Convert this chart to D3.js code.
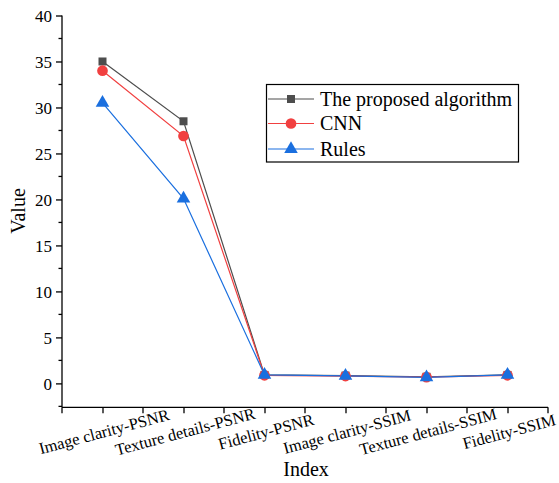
<!DOCTYPE html>
<html><head><meta charset="utf-8">
<script src="https://cdn.jsdelivr.net/npm/d3@7"></script>
<style>body{margin:0;background:#fff}svg{display:block}text{font-family:"Liberation Serif","Times New Roman",serif;fill:#000}</style>
</head><body><svg id="c" width="559" height="483"></svg>
<script>
const categories = ["Image clarity-PSNR","Texture details-PSNR","Fidelity-PSNR","Image clarity-SSIM","Texture details-SSIM","Fidelity-SSIM"];
const proposed = [35, 28.5, 0.92, 0.85, 0.72, 0.92];
const cnn = [34, 26.9, 0.88, 0.8, 0.68, 0.88];
const rules = [30.5, 20.1, 0.92, 0.82, 0.65, 0.93];
const seriesNames = ["The proposed algorithm","CNN","Rules"];
const yTicks = [0,5,10,15,20,25,30,35,40];

const series = [
  {name: seriesNames[0], values: proposed, color: "#4d4d4d", shape: d3.symbolSquare, size: 64},
  {name: seriesNames[1], values: cnn, color: "#f14040", shape: d3.symbolCircle, size: 90},
  {name: seriesNames[2], values: rules, color: "#1a6fdf", shape: d3.symbolTriangle, size: 80}
];

const svg = d3.select("#c");
const L = 62, R = 548, T = 15.5, B = 407.3;
const x = d3.scaleLinear().domain([0.5, 6.5]).range([L, R]);
const y = d3.scaleLinear().domain([-2.6, 40]).range([B, T]);

// Y axis
const yAxis = svg.append("g").attr("transform", `translate(${L},0)`)
  .call(d3.axisLeft(y).tickValues(yTicks).tickSize(6).tickPadding(4).tickFormat(d3.format("d")));
yAxis.select(".domain").attr("stroke", "#000").attr("stroke-width", 1.3).attr("d", `M0,${B}V${T}`);
yAxis.selectAll(".tick line").attr("stroke", "#000").attr("stroke-width", 1.3);
yAxis.selectAll(".tick text").style("font-size", "17px").attr("dy", "0.34em");
const yMinor = d3.range(-2.5, 40, 2.5).filter(v => v % 5 !== 0);
svg.append("g").selectAll("line").data(yMinor).join("line")
  .attr("x1", L - 3.5).attr("x2", L).attr("y1", d => y(d)).attr("y2", d => y(d))
  .attr("stroke", "#000").attr("stroke-width", 1.3);

// X axis
const xAxis = svg.append("g").attr("transform", `translate(0,${B})`)
  .call(d3.axisBottom(x).tickValues([1,2,3,4,5,6]).tickSize(6).tickFormat(""));
xAxis.select(".domain").attr("stroke", "#000").attr("stroke-width", 1.3).attr("d", `M${L},0H${R}`);
xAxis.selectAll(".tick line").attr("stroke", "#000").attr("stroke-width", 1.3);
const xMinor = [0.5,1.5,2.5,3.5,4.5,5.5,6.5];
svg.append("g").selectAll("line").data(xMinor).join("line")
  .attr("x1", d => x(d)).attr("x2", d => x(d)).attr("y1", B).attr("y2", B + 6)
  .attr("stroke", "#000").attr("stroke-width", 1.3);

svg.append("g").selectAll("text").data(categories).join("text")
  .attr("transform", (d, i) => `translate(${x(i + 1) + 3},${437}) rotate(-15)`)
  .attr("text-anchor", "middle").style("font-size", "16.5px").text(d => d);

// Axis titles
svg.append("text").attr("transform", `translate(25,211) rotate(-90)`).attr("text-anchor", "middle")
  .style("font-size", "20px").text("Value");
svg.append("text").attr("x", 306).attr("y", 476).attr("text-anchor", "middle")
  .style("font-size", "20px").text("Index");

// Lines and markers
const line = d3.line().x((d, i) => x(i + 1)).y(d => y(d));
series.forEach(s => {
  svg.append("path").datum(s.values).attr("d", line).attr("fill", "none")
    .attr("stroke", s.color).attr("stroke-width", 1.2);
});
series.forEach(s => {
  svg.append("g").selectAll("path").data(s.values).join("path")
    .attr("transform", (d, i) => `translate(${x(i + 1)},${y(d)})`)
    .attr("d", d3.symbol().type(s.shape).size(s.size)).attr("fill", s.color);
});

// Legend
const lg = svg.append("g");
lg.append("rect").attr("x", 266.5).attr("y", 84.5).attr("width", 252).attr("height", 77.5)
  .attr("fill", "#fff").attr("stroke", "#000").attr("stroke-width", 1.2);
const ly = [99, 123.5, 149];
series.forEach((s, i) => {
  lg.append("line").attr("x1", 268).attr("x2", 314).attr("y1", ly[i]).attr("y2", ly[i])
    .attr("stroke", s.color).attr("stroke-width", 1.2);
  lg.append("path").attr("transform", `translate(291,${ly[i]})`)
    .attr("d", d3.symbol().type(s.shape).size(s.size)).attr("fill", s.color);
  lg.append("text").attr("x", 320).attr("y", ly[i]).attr("dy", "0.33em")
    .style("font-size", "20px").text(s.name);
});
</script></body></html>
